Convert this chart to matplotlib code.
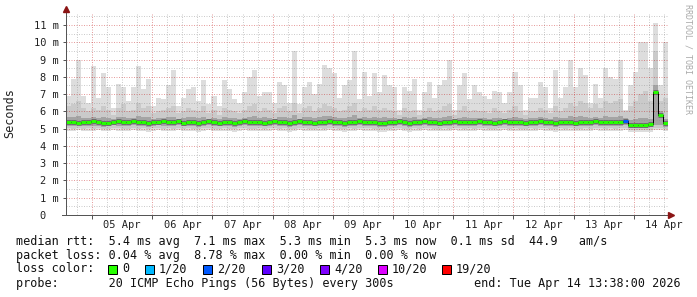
import matplotlib
matplotlib.use('Agg')
import matplotlib.pyplot as plt
import numpy as np

W, H, DPI = 697, 297, 100

# ---------------- data ----------------
start_day = 13.6333 / 24.0          # Apr 4 13:38, in days since Apr 4 00:00
bin_days = 2.0 / 24.0               # 2-hour bins
n_bins = 120

ping_max = [6.9, 7.9, 9.0, 6.9, 6.5, 8.6, 6.8, 8.2, 7.4, 6.2, 7.6, 7.4, 6.6, 7.4, 8.6, 7.3, 7.9, 6.3, 6.8, 6.7,
            7.5, 8.4, 6.3, 6.8, 7.3, 7.4, 6.6, 7.8, 6.4, 6.9, 6.3, 7.8, 7.3, 6.7, 6.5, 7.1, 8.0, 8.4, 6.9, 7.1,
            7.1, 6.5, 7.7, 7.5, 6.5, 9.5, 6.4, 7.4, 7.7, 7.0, 7.6, 8.7, 8.5, 8.2, 6.8, 7.5, 7.8, 9.5, 6.7, 8.3,
            6.9, 8.2, 7.1, 8.1, 7.5, 7.4, 6.1, 7.4, 7.2, 7.9, 6.1, 7.1, 7.7, 6.8, 7.5, 7.8, 9.0, 6.1, 7.5, 8.2,
            6.7, 7.5, 7.1, 6.9, 6.7, 7.2, 7.1, 6.5, 7.1, 8.3, 7.5, 6.1, 6.8, 6.8, 7.7, 7.4, 6.2, 8.4, 6.8, 7.4,
            9.0, 7.4, 8.5, 8.1, 6.5, 7.6, 6.8, 8.5, 8.0, 7.9, 9.0, 6.1, 7.5, 8.3, 10.0, 10.0, 8.5, 11.1, 7.5, 10.0]

ping_hi = [6.3, 6.4, 6.6, 6.2, 6.0, 6.2, 6.1, 6.3, 6.1, 5.8, 6.2, 6.4, 6.0, 6.1, 6.5, 6.2, 6.3, 5.9, 6.0, 6.1,
           6.2, 6.3, 5.9, 6.0, 6.2, 6.1, 6.0, 6.3, 5.9, 6.1, 5.8, 6.2, 6.1, 6.0, 5.9, 6.1, 6.3, 6.4, 6.0, 6.2,
           6.1, 5.9, 6.2, 6.3, 6.0, 6.5, 5.9, 6.2, 6.3, 6.0, 6.2, 6.4, 6.3, 6.2, 6.0, 6.1, 6.3, 6.5, 6.0, 6.2,
           6.1, 6.3, 6.1, 6.2, 6.1, 6.0, 5.8, 6.2, 6.0, 6.1, 5.8, 6.0, 6.2, 6.0, 6.1, 6.3, 6.4, 5.8, 6.1, 6.3,
           6.0, 6.1, 6.0, 6.0, 5.9, 6.2, 6.0, 5.9, 6.1, 6.3, 6.0, 5.8, 6.0, 6.0, 6.2, 6.1, 5.9, 6.3, 6.0, 6.2,
           6.5, 6.3, 6.6, 6.5, 6.2, 6.4, 6.2, 6.6, 6.5, 6.6, 6.7, 6.0, 6.3, 6.6, 7.0, 7.2, 6.6, 9.5, 6.6, 6.8]

ping_q75 = [5.65, 5.70, 5.75, 5.62, 5.60, 5.70, 5.62, 5.68, 5.60, 5.55, 5.65, 5.70, 5.60, 5.62, 5.72, 5.65, 5.70, 5.58, 5.62, 5.60,
            5.65, 5.70, 5.58, 5.62, 5.66, 5.65, 5.60, 5.70, 5.58, 5.62, 5.56, 5.68, 5.64, 5.60, 5.58, 5.62, 5.70, 5.72, 5.60, 5.65,
            5.62, 5.58, 5.66, 5.68, 5.60, 5.78, 5.58, 5.65, 5.68, 5.60, 5.66, 5.74, 5.72, 5.70, 5.60, 5.64, 5.68, 5.80, 5.60, 5.70,
            5.62, 5.70, 5.64, 5.66, 5.64, 5.60, 5.55, 5.66, 5.62, 5.66, 5.55, 5.62, 5.66, 5.60, 5.64, 5.68, 5.75, 5.55, 5.64, 5.70,
            5.60, 5.64, 5.62, 5.60, 5.58, 5.64, 5.62, 5.58, 5.62, 5.70, 5.64, 5.55, 5.60, 5.60, 5.66, 5.64, 5.56, 5.70, 5.60, 5.64,
            5.75, 5.66, 5.72, 5.70, 5.62, 5.68, 5.62, 5.74, 5.70, 5.68, 5.76, 5.60, 5.50, 5.55, 5.60, 5.62, 5.58, 7.50, 6.00, 5.55]

median_rtt = [5.40, 5.38, 5.35, 5.40, 5.38, 5.42, 5.38, 5.30, 5.35, 5.40, 5.42, 5.40, 5.38, 5.42, 5.40, 5.38, 5.30, 5.38, 5.40, 5.42,
              5.38, 5.40, 5.42, 5.35, 5.40, 5.38, 5.30, 5.38, 5.42, 5.40, 5.35, 5.38, 5.40, 5.32, 5.38, 5.42, 5.40, 5.38, 5.40, 5.35,
              5.40, 5.42, 5.38, 5.40, 5.30, 5.38, 5.42, 5.40, 5.38, 5.35, 5.40, 5.38, 5.42, 5.40, 5.38, 5.30, 5.38, 5.40, 5.42, 5.38,
              5.40, 5.38, 5.32, 5.30, 5.38, 5.40, 5.42, 5.38, 5.30, 5.40, 5.38, 5.42, 5.40, 5.38, 5.35, 5.40, 5.38, 5.42, 5.40, 5.38,
              5.40, 5.38, 5.42, 5.40, 5.38, 5.35, 5.40, 5.42, 5.38, 5.40, 5.38, 5.35, 5.40, 5.38, 5.42, 5.40, 5.38, 5.32, 5.40, 5.38,
              5.40, 5.35, 5.38, 5.40, 5.38, 5.42, 5.40, 5.38, 5.40, 5.38, 5.40, 5.42, 5.22, 5.20, 5.22, 5.22, 5.25, 7.10, 5.80, 5.30]

ping_q25 = [5.18, 5.15, 5.20, 5.16, 5.18, 5.14, 5.18, 5.12, 5.16, 5.20, 5.18, 5.16, 5.18, 5.20, 5.15, 5.18, 5.12, 5.18, 5.20, 5.16,
            5.18, 5.15, 5.20, 5.14, 5.18, 5.16, 5.12, 5.18, 5.20, 5.16, 5.14, 5.18, 5.16, 5.12, 5.18, 5.20, 5.16, 5.15, 5.18, 5.14,
            5.18, 5.20, 5.16, 5.18, 5.12, 5.16, 5.20, 5.18, 5.16, 5.14, 5.18, 5.15, 5.20, 5.18, 5.16, 5.12, 5.18, 5.16, 5.20, 5.18,
            5.18, 5.16, 5.12, 5.12, 5.16, 5.18, 5.20, 5.16, 5.12, 5.18, 5.16, 5.20, 5.18, 5.16, 5.14, 5.18, 5.15, 5.20, 5.18, 5.16,
            5.18, 5.16, 5.20, 5.18, 5.16, 5.14, 5.18, 5.20, 5.16, 5.18, 5.16, 5.14, 5.18, 5.16, 5.20, 5.18, 5.16, 5.12, 5.18, 5.16,
            5.18, 5.14, 5.16, 5.18, 5.16, 5.20, 5.18, 5.16, 5.18, 5.16, 5.18, 5.20, 5.06, 5.05, 5.06, 5.06, 5.08, 5.20, 5.20, 5.12]

ping_lo = [5.02, 5.00, 5.04, 4.98, 5.02, 5.00, 5.04, 4.98, 5.00, 5.04, 5.02, 5.00, 4.98, 5.04, 5.00, 5.02, 4.96, 5.02, 5.04, 5.00,
           5.02, 4.98, 5.04, 5.00, 5.02, 4.98, 4.96, 5.02, 5.04, 5.00, 4.98, 5.02, 5.00, 4.96, 5.02, 5.04, 5.00, 4.98, 5.02, 4.98,
           5.02, 5.04, 5.00, 5.02, 4.96, 5.00, 5.04, 5.02, 5.00, 4.98, 5.02, 4.98, 5.04, 5.02, 5.00, 4.96, 5.02, 5.00, 5.04, 5.02,
           5.02, 5.00, 4.96, 4.96, 5.00, 5.02, 5.04, 5.00, 4.96, 5.02, 5.00, 5.04, 5.02, 5.00, 4.98, 5.02, 4.98, 5.04, 5.02, 5.00,
           5.02, 5.00, 5.04, 5.02, 5.00, 4.98, 5.02, 5.04, 5.00, 5.02, 5.00, 4.98, 5.02, 5.00, 5.04, 5.02, 5.00, 4.96, 5.02, 5.00,
           5.02, 4.98, 5.00, 5.02, 5.00, 5.04, 5.02, 5.00, 5.02, 5.00, 5.02, 5.04, 4.92, 4.90, 4.92, 4.92, 4.94, 5.04, 5.04, 4.98]

ping_min = [4.88, 4.85, 4.90, 4.84, 4.88, 4.86, 4.92, 4.84, 4.86, 4.90, 4.88, 4.86, 4.84, 4.92, 4.86, 4.88, 4.82, 4.88, 4.90, 4.86,
            4.88, 4.84, 4.90, 4.86, 4.88, 4.84, 4.82, 4.88, 4.90, 4.86, 4.84, 4.88, 4.86, 4.82, 4.88, 4.90, 4.86, 4.84, 4.88, 4.84,
            4.88, 4.90, 4.86, 4.88, 4.82, 4.86, 4.90, 4.88, 4.86, 4.84, 4.88, 4.84, 4.90, 4.88, 4.86, 4.82, 4.88, 4.86, 4.90, 4.88,
            4.88, 4.86, 4.82, 4.82, 4.86, 4.88, 4.90, 4.86, 4.82, 4.88, 4.86, 4.90, 4.88, 4.86, 4.84, 4.88, 4.84, 4.90, 4.88, 4.86,
            4.88, 4.86, 4.90, 4.88, 4.86, 4.84, 4.88, 4.90, 4.86, 4.88, 4.86, 4.84, 4.88, 4.86, 4.90, 4.88, 4.86, 4.82, 4.88, 4.86,
            4.88, 4.84, 4.86, 4.88, 4.86, 4.90, 4.88, 4.86, 4.88, 4.86, 4.88, 4.90, 4.80, 4.78, 4.80, 4.80, 4.82, 4.92, 4.92, 4.86]

loss_bins = [111]          # bins with packet loss
loss_counts = [2]          # lost pings out of 20

loss_labels = ["0", "1/20", "2/20", "3/20", "4/20", "10/20", "19/20"]
loss_thresholds = [0, 1, 2, 3, 4, 10, 19]
loss_colors = ['#26ff00', '#00b8ff', '#0059ff', '#5e00ff', '#7e00ff', '#dd00ff', '#ff0000']

day_labels = ["05 Apr", "06 Apr", "07 Apr", "08 Apr", "09 Apr",
              "10 Apr", "11 Apr", "12 Apr", "13 Apr", "14 Apr"]
y_ticks = list(range(0, 12))
y_labels = ["0  "] + ["%d m" % v for v in range(1, 12)]

legend_rows = [
    "median rtt:  5.4 ms avg  7.1 ms max  5.3 ms min  5.3 ms now  0.1 ms sd  44.9   am/s",
    "packet loss: 0.04 % avg  8.78 % max  0.00 % min  0.00 % now",
]
probe_text = "probe:       20 ICMP Echo Pings (56 Bytes) every 300s"
end_text = "end: Tue Apr 14 13:38:00 2026"

# ---------------- drawing ----------------
MONO = 'DejaVu Sans Mono'
plt.rcParams['font.family'] = MONO
PX = 72.0 / DPI   # points per pixel

fig = plt.figure(figsize=(W / DPI, H / DPI), dpi=DPI)
fig.patch.set_facecolor('white')
ax_left, ax_right, ax_bot, ax_top = 66, 668, 215, 14
ax = fig.add_axes([ax_left / W, 1 - ax_bot / H, (ax_right - ax_left) / W, (ax_bot - ax_top) / H])
ax.set_facecolor('white')
x0 = start_day
x1 = start_day + n_bins * bin_days
ax.set_xlim(x0, x1)
ax.set_ylim(0, (ax_bot - ax_top) / 17.27)

xs = start_day + np.arange(n_bins) * bin_days
pmax = np.array(ping_max); phi = np.array(ping_hi); pq75 = np.array(ping_q75)
pq25 = np.array(ping_q25); plo = np.array(ping_lo); pmin = np.array(ping_min)
med = np.array(median_rtt)

# smoke layers
ax.bar(xs, pmax - pmin, bottom=pmin, width=bin_days, align='edge', color='#dddddd', linewidth=0, zorder=1)
ax.bar(xs, phi - plo, bottom=plo, width=bin_days, align='edge', color='#cacaca', linewidth=0, zorder=2)
ax.bar(xs, pq75 - pq25, bottom=pq25, width=bin_days, align='edge', color='#a4a4a4', linewidth=0, zorder=3)

# grid
ylim_top = ax.get_ylim()[1]
dash = (0, (1.0, 1.5))
d = np.ceil(x0 * 4) / 4
while d < x1:
    is_major = abs(d - round(d)) < 1e-6
    if is_major:
        ax.axvline(d, color='#c00000', alpha=0.38, lw=PX, linestyle=dash, zorder=4)
    else:
        ax.axvline(d, color='#8f8f8f', alpha=0.45, lw=PX, linestyle=dash, zorder=4)
    d += 0.25
yv = 0.5
while yv < ylim_top:
    if abs(yv - round(yv)) < 1e-6:
        ax.axhline(yv, color='#c00000', alpha=0.38, lw=PX, linestyle=dash, zorder=4)
    else:
        ax.axhline(yv, color='#8f8f8f', alpha=0.45, lw=PX, linestyle=dash, zorder=4)
    yv += 0.5

# median line coloured by loss
loss_arr = np.zeros(n_bins, dtype=int)
for b, c in zip(loss_bins, loss_counts):
    loss_arr[b] = c
def loss_color(c):
    idx = 0
    for i, t in enumerate(loss_thresholds):
        if c >= t:
            idx = i
    return loss_colors[idx]
seg_colors = [loss_color(c) for c in loss_arr]

ax.hlines(med, xs, xs + bin_days, colors='#505050', linewidth=4.6 * PX, zorder=5, alpha=0.8)
ax.step(np.append(xs, x1), np.append(med, med[-1]), where='post', color='black', lw=1.0 * PX, zorder=6)
ax.hlines(med, xs, xs + bin_days, colors=seg_colors, linewidth=3.0 * PX, zorder=7)

# axes, ticks
for s in ax.spines.values():
    s.set_visible(False)
axis_col = '#555555'
arrow_col = '#8b1414'
ax.plot([0, 0], [0, 1 + 4.0 / (ax_bot - ax_top)], transform=ax.transAxes, color=axis_col,
        lw=PX, clip_on=False, zorder=8)
ax.plot([-4.0 / (ax_right - ax_left), 1 + 2.0 / (ax_right - ax_left)], [0, 0], transform=ax.transAxes,
        color=axis_col, lw=PX, clip_on=False, zorder=8)
ax.plot([0], [1 + 5.0 / (ax_bot - ax_top)], marker='^', ms=5, color=arrow_col, mec=arrow_col,
        transform=ax.transAxes, clip_on=False, zorder=9)
ax.plot([1 + 3.0 / (ax_right - ax_left)], [0], marker='>', ms=5, color=arrow_col, mec=arrow_col,
        transform=ax.transAxes, clip_on=False, zorder=9)

midnights = [float(k) for k in range(1, 11)]
noons = [k + 0.5 for k in range(1, 11)]
ax.set_xticks(midnights)
ax.set_xticklabels([])
ax.tick_params(axis='x', which='major', length=3, width=PX, color=axis_col, direction='out')
ax.set_xticks(noons, minor=True)
ax.set_xticklabels(day_labels, minor=True, fontsize=7.5, color='#222222')
ax.tick_params(axis='x', which='minor', length=0, pad=3.5)

ax.set_yticks(y_ticks)
ax.set_yticklabels(y_labels, fontsize=7.5, color='#222222')
ax.tick_params(axis='y', which='major', length=2, width=PX, color=axis_col, pad=3)

# y axis title
fig.text(10 / W, 1 - 113 / H, 'Seconds', rotation=90, ha='center', va='center', fontsize=8.5, color='#222222')

# watermark
fig.text(688 / W, 1 - 4 / H, 'RRDTOOL / TOBI OETIKER', rotation=270, ha='center', va='top',
         fontsize=6, color='#aaaaaa')

# legend
fs = 8.5
rows_y = [241, 255, 269, 284]
for txt, yy in zip(legend_rows, rows_y[:2]):
    fig.text(16 / W, 1 - yy / H, txt, ha='left', va='center', fontsize=fs, color='#111111')
fig.text(16 / W, 1 - rows_y[2] / H, "loss color:", ha='left', va='center', fontsize=fs, color='#111111')
box_x = [108, 145, 203, 262, 320, 378, 442]
for bx, lab, col in zip(box_x, loss_labels, loss_colors):
    fig.patches.append(plt.Rectangle((bx / W, 1 - (rows_y[2] + 4.5) / H), 9 / W, 9 / H,
                                     transform=fig.transFigure, facecolor=col, edgecolor='black',
                                     linewidth=PX, figure=fig))
    fig.text((bx + 14) / W, 1 - rows_y[2] / H, lab, ha='left', va='center', fontsize=fs, color='#111111')
fig.text(16 / W, 1 - rows_y[3] / H, probe_text, ha='left', va='center', fontsize=fs, color='#111111')
fig.text(681 / W, 1 - rows_y[3] / H, end_text, ha='right', va='center', fontsize=fs, color='#111111')

fig.savefig('out.png', dpi=DPI, facecolor='white')
